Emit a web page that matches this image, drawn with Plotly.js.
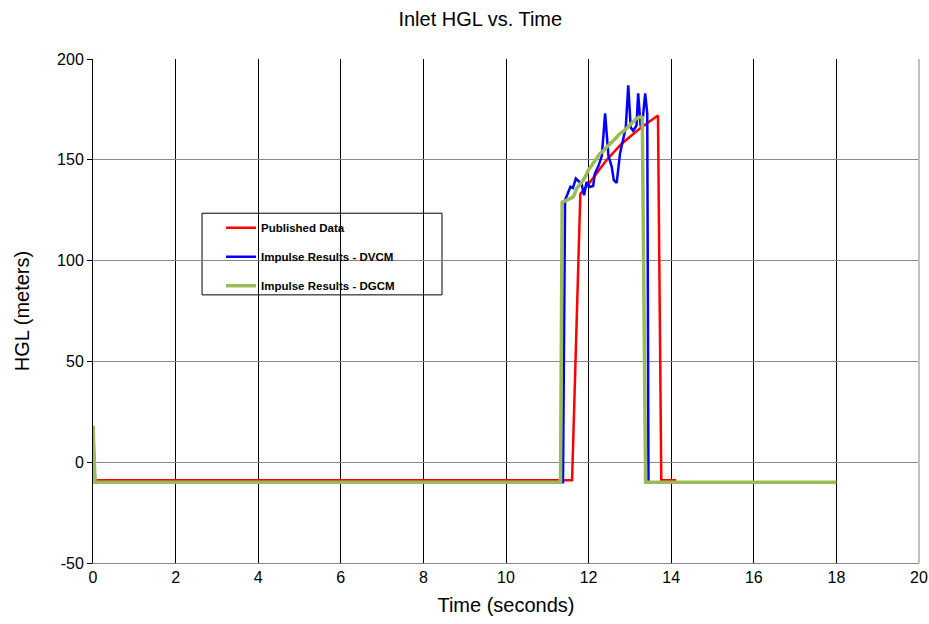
<!DOCTYPE html>
<html>
<head>
<meta charset="utf-8">
<script src="https://cdn.plot.ly/plotly-3.0.1.min.js"></script>
<style>html,body{margin:0;padding:0;background:#fff;}#chart{width:929px;height:624px;}</style>
</head>
<body>
<div id="chart"></div>
<script>
// Published Data (red)
const redTime = [0.05, 11.60, 11.80, 12.00, 12.44, 12.80, 13.24, 13.68, 13.76, 14.12];
const redHGL  = [-9, -9, 133, 138, 150, 158, 165.5, 172, -9, -9];

// Impulse Results - DVCM (blue)
const blueTime = [0, 0.05, 11.38, 11.43, 11.51, 11.56, 11.62, 11.69, 11.78, 11.83, 11.89, 11.95, 12.03, 12.11, 12.15, 12.24, 12.32, 12.40, 12.48, 12.56, 12.61, 12.68, 12.76, 12.84, 12.90, 12.96, 13.02, 13.08, 13.16, 13.20, 13.26, 13.31, 13.37, 13.42, 13.45, 18.0];
const blueHGL  = [18, -10, -10, 130, 134, 136.6, 136, 140.7, 139, 138, 132.4, 139, 136.5, 137, 143, 147, 152, 173, 152, 146.5, 139.9, 138.5, 153, 160, 166, 187, 166, 164.4, 167, 183, 166.7, 170, 183, 173, -10, -10];

// Impulse Results - DGCM (green)
const greenTime = [0, 0.05, 11.32, 11.36, 11.47, 11.63, 11.71, 11.79, 11.87, 11.93, 11.99, 12.07, 12.19, 12.27, 12.36, 12.44, 12.52, 12.60, 12.68, 12.76, 12.84, 12.92, 13.00, 13.08, 13.16, 13.26, 13.30, 13.38, 18.0];
const greenHGL  = [18, -10, -10, 129, 130, 131.6, 135.7, 137.5, 139.9, 142, 144.8, 147, 150.6, 153, 154.5, 156.4, 158, 159.5, 161.4, 163, 164, 165.5, 167.5, 169, 170.5, 171.3, 171, -10, -10];

const xTicks = [0, 2, 4, 6, 8, 10, 12, 14, 16, 18, 20];
const yTicks = [-50, 0, 50, 100, 150, 200];

const traces = [
  {x: redTime, y: redHGL, name: 'Published Data', mode: 'lines', line: {color: '#ff0000', width: 2.5}, legendgroup: 'a'},
  {x: blueTime, y: blueHGL, name: 'Impulse Results - DVCM', mode: 'lines', line: {color: '#0000ff', width: 2.5}, legendgroup: 'b'},
  {x: greenTime, y: greenHGL, name: 'Impulse Results - DGCM', mode: 'lines', line: {color: '#9bbb59', width: 3.5}, legendgroup: 'c'}
];

const layout = {
  width: 929, height: 624,
  margin: {l: 93, r: 10, t: 59, b: 61},
  paper_bgcolor: '#ffffff', plot_bgcolor: '#ffffff',
  font: {family: 'Liberation Sans, Arial, sans-serif', color: '#000'},
  title: {text: 'Inlet HGL vs. Time', font: {size: 20, color: '#000'}, x: 0.517, xanchor: 'center', y: 0.97, yanchor: 'middle'},
  xaxis: {
    range: [0, 20], tickvals: xTicks, ticktext: xTicks.map(String),
    showgrid: true, gridcolor: '#000000', gridwidth: 1,
    zeroline: false, showline: true, linecolor: '#888888', linewidth: 1,
    ticks: '', tickfont: {size: 16},
    title: {text: 'Time (seconds)', font: {size: 20}, standoff: 12}
  },
  yaxis: {
    range: [-50, 200], tickvals: yTicks, ticktext: yTicks.map(String),
    showgrid: true, gridcolor: '#888888', gridwidth: 1,
    zeroline: false, showline: true, linecolor: '#000000', linewidth: 1,
    ticks: 'outside', ticklen: 5, tickcolor: '#000', tickfont: {size: 16},
    title: {text: 'HGL (meters)', font: {size: 20}, standoff: 22}
  },
  showlegend: true,
  legend: {
    x: 0.155, y: 0.694, xanchor: 'left', yanchor: 'top',
    bgcolor: 'rgba(0,0,0,0)', borderwidth: 0,
    font: {size: 11.5, family: 'Liberation Sans, Arial, sans-serif', weight: 'bold'},
    traceorder: 'grouped', tracegroupgap: 10, itemwidth: 30
  },
  shapes: [
    {type: 'line', xref: 'paper', yref: 'paper', x0: 1, x1: 1, y0: 0, y1: 1, line: {color: '#c0c0c0', width: 2}},
    {type: 'rect', xref: 'paper', yref: 'paper', x0: 0.132, x1: 0.4225, y0: 0.532, y1: 0.694,
     fillcolor: '#ffffff', line: {color: '#000000', width: 1}, layer: 'between'}
  ]
};

Plotly.newPlot('chart', traces, layout, {displayModeBar: false, staticPlot: true});
</script>
</body>
</html>
